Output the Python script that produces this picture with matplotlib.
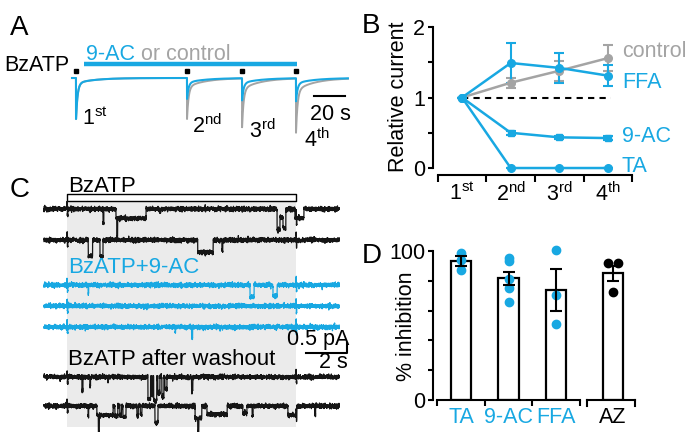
import numpy as np
import matplotlib.pyplot as plt
from matplotlib.ticker import FixedLocator

plt.rcParams['font.family'] = ['Liberation Sans', 'DejaVu Sans']
plt.rcParams['mathtext.fontset'] = 'custom'
plt.rcParams['mathtext.rm'] = 'Liberation Sans'
plt.rcParams['mathtext.it'] = 'Liberation Sans'

BLUE = '#18a8e2'
GRAY = '#a4a4a4'
W, H = 696, 444

# ---------------- data ----------------
# A: example whole-cell responses (relative to 1st response)
pulse_t = [2.6, 74.2, 109.7, 144.5]            # s
amp_ctrl = [1.0, 1.0, 1.19, 1.32]
amp_9ac = [1.0, 0.51, 0.54, 0.56]
tail_frac = [0.13, 0.22, 0.22, 0.22]
drug_on, drug_off = 7.7, 145.1                 # s

# B: relative current
stim = [1, 2, 3, 4]
stim_labels = ['1^{st}', '2^{nd}', '3^{rd}', '4^{th}']
ctrl_mean = [1.0, 1.21, 1.38, 1.56]
ctrl_err = [0.0, 0.07, 0.14, 0.19]
ffa_mean = [1.0, 1.49, 1.42, 1.31]
ffa_err = [0.0, 0.28, 0.21, 0.15]
ac_mean = [1.0, 0.50, 0.435, 0.425]
ac_err = [0.0, 0.03, 0.025, 0.03]
ta_mean = [1.0, 0.0, 0.0, 0.0]
ta_err = [0.0, 0.0, 0.0, 0.0]

# C: single-channel openings (start s, end s, amplitude pA)
bz_on, bz_off = 1.12, 12.29
events_black1 = [(2.88, 2.92, 0.7), (3.51, 4.98, 0.47), (3.55, 3.59, 0.95), (5.66, 5.69, 0.2),
                 (11.37, 11.51, 1.05), (11.51, 11.66, 0.42), (11.66, 11.8, 0.95), (12.24, 12.68, 0.45)]
events_black2 = [(2.16, 2.37, 0.8), (2.73, 2.88, 0.8), (7.5, 8.25, 0.62), (8.68, 8.72, 0.55)]
events_blue1 = [(2.15, 2.18, 0.45), (10.05, 10.25, 0.6), (11.17, 11.37, 0.55), (13.56, 13.58, 0.2)]
events_blue2 = [(5.0, 5.02, 0.1)]
events_blue3 = [(6.4, 6.42, 0.25), (7.2, 7.25, 0.55)]
events_black3 = [(0.78, 0.8, 0.2), (1.85, 1.9, 0.7), (2.24, 2.27, 0.45), (3.12, 3.14, 0.2),
                 (5.07, 5.2, 1.1), (5.25, 5.3, 0.9), (5.35, 5.5, 1.2), (5.55, 5.65, 0.8),
                 (5.75, 5.85, 1.0), (5.9, 6.0, 0.6), (7.2, 7.26, 0.7)]
events_black4 = [(2.15, 2.18, 0.5), (2.58, 3.37, 0.45), (2.65, 2.7, 0.95), (3.46, 3.6, 0.5),
                 (3.7, 3.78, 0.5), (3.85, 4.0, 0.55), (4.53, 4.6, 0.5), (4.7, 4.78, 0.45),
                 (5.41, 5.56, 0.85), (7.37, 7.7, 0.6), (7.5, 7.55, 0.75), (7.95, 8.93, 0.42),
                 (9.7, 9.9, 0.35), (10.15, 10.2, 0.5), (11.9, 12.34, 0.45), (13.2, 13.25, 0.45)]

# D: % inhibition
groups = ['TA', '9-AC', 'FFA', 'AZ']
group_colors = [BLUE, BLUE, BLUE, 'black']
inhib_mean = [93.5, 81.7, 73.8, 85.0]
inhib_err = [3.4, 4.5, 14.3, 4.8]
inhib_pts = [[98.5, 94.0, 87.0],
             [95.5, 93.3, 81.5, 75.4, 65.8],
             [100.4, 70.5, 50.9],
             [91.7, 91.7, 72.7]]

# ---------------- helpers ----------------
fig = plt.figure(figsize=(W / 100, H / 100), dpi=100)


def box(l, t, r, b):
    return [l / W, 1 - b / H, (r - l) / W, (b - t) / H]


def ftext(x, y, s, **kw):
    kw.setdefault('fontsize', 15.5)
    fig.text(x / W, 1 - y / H, s, **kw)


def evoked(t, onsets, amps, fracs, tau_fast=1.0, tau_slow=12.0):
    y = np.zeros_like(t)
    for t0, a, sf in zip(onsets, amps, fracs):
        dt = t - t0
        m = dt >= 0
        y[m] -= a * ((1 - sf) * np.exp(-dt[m] / tau_fast) + sf * np.exp(-dt[m] / tau_slow))
    return y


rng = np.random.default_rng(3)


def channel_trace(t, events):
    # baseline noise is only texture; openings come from the event lists
    y = rng.normal(0, 0.055, t.size)
    for t0, t1, a in events:
        y[(t >= t0) & (t < t1)] -= a
    for ta in (bz_on, bz_off):
        y[(t >= ta) & (t < ta + 0.02)] += 0.3
        y[(t >= ta + 0.02) & (t < ta + 0.04)] -= 0.3
    return y


def panel_letter(x, y, s):
    ftext(x, y, s, fontsize=20)


# ---------------- A ----------------
axA = fig.add_axes(box(60, 40, 352, 150))
axA.axis('off')
axA.set_xlim((60 - 72) * 0.645, (352 - 72) * 0.645)
axA.set_ylim((78 - 150) / 41, (78 - 40) / 41)
tA = np.arange(0, 178, 0.05)
axA.plot(tA, evoked(tA, pulse_t, amp_ctrl, tail_frac), color=GRAY, lw=1.4)
axA.plot(tA, evoked(tA, pulse_t, amp_9ac, tail_frac), color=BLUE, lw=1.5)
axA.plot([drug_on, drug_off], [0.33, 0.33], color=BLUE, lw=3.2, solid_capstyle='butt')
axA.plot(pulse_t, [0.17] * len(pulse_t), 's', color='black', ms=2.3)
axA.plot([156, 176], [-0.44, -0.44], color='black', lw=1.5)

panel_letter(10, 35, 'A')
ftext(4, 71, 'BzATP')
ftext(86, 60, '9-AC', color=BLUE)
ftext(141, 60, 'or control', color=GRAY)
for x, y, s in [(82, 125, '1^{st}'), (192, 133, '2^{nd}'), (249, 138, '3^{rd}'), (304, 147, '4^{th}')]:
    ftext(x, y, r'$\mathregular{' + s + '}$', va='baseline')
ftext(310, 120, '20 s', va='baseline')

# ---------------- B ----------------
axB = fig.add_axes(box(433, 23.5, 640, 170))
axB.set_xlim(1 - (462 - 433) / 48.7, 1 + (640 - 462) / 48.7)
axB.set_ylim(-0.028, 2.05)
axB.plot([1, 4.05], [1, 1], color='black', lw=1.5, ls=(0, (3, 2.5)))
eb = dict(capsize=3.5, elinewidth=1.5, capthick=1.5, lw=1.8, clip_on=False)
axB.errorbar(stim, ctrl_mean, yerr=ctrl_err, color=GRAY, marker='o', ms=5.5, **eb)
axB.errorbar(stim, ac_mean, yerr=ac_err, color=BLUE, marker='s', ms=5, **eb)
axB.errorbar(stim, ta_mean, yerr=ta_err, color=BLUE, marker='o', ms=5.5, **eb)
axB.errorbar(stim, ffa_mean, yerr=ffa_err, color=BLUE, marker='o', ms=5.5, **eb)
for s in ['top', 'right']:
    axB.spines[s].set_visible(False)
for s in ['left', 'bottom']:
    axB.spines[s].set_linewidth(1.5)
axB.spines['left'].set_bounds(0, 2)
axB.spines['bottom'].set_bounds(0.5, 4.5)
axB.spines['bottom'].set_position(('outward', 3.6))
axB.set_yticks([0, 1, 2])
axB.yaxis.set_minor_locator(FixedLocator([0.5, 1.5]))
axB.tick_params(axis='y', which='both', length=3.6, width=1.5, labelsize=15.5, pad=2)
axB.set_xticks([0.5, 1.5, 2.5, 3.5, 4.5])
axB.set_xticklabels([])
axB.set_xticks(stim, minor=True)
axB.set_xticklabels([r'$\mathregular{' + s + '}$' for s in stim_labels], minor=True)
axB.tick_params(axis='x', which='major', length=5, width=1.5)
axB.tick_params(axis='x', which='minor', length=0, labelsize=15.5, pad=5)

panel_letter(362, 33, 'B')
ftext(398, 97, 'Relative current', rotation=90, ha='center', va='center')
ftext(622, 57, 'control', color=GRAY, va='baseline')
ftext(622, 88, 'FFA', color=BLUE, va='baseline')
ftext(622, 142, '9-AC', color=BLUE, va='baseline')
ftext(622, 172, 'TA', color=BLUE, va='baseline')

# ---------------- C ----------------
axC = fig.add_axes(box(40, 172, 352, 432))
axC.axis('off')
axC.set_xlim((40 - 44) / 20.5, (352 - 44) / 20.5)
axC.set_ylim(-(432 - 172) / 20, 0)
axC.fill_between([bz_on, bz_off], -(427 - 172) / 20, -(201 - 172) / 20, color='#ebebeb', lw=0)
axC.fill_between([bz_on, bz_off], -(201 - 172) / 20, -(194 - 172) / 20,
                 facecolor='white', edgecolor='black', lw=1.0)
tC = np.arange(0, 14.4, 0.004)
traces = [(events_black1, '#151515', 209), (events_black2, '#151515', 240),
          (events_blue1, BLUE, 285), (events_blue2, BLUE, 306), (events_blue3, BLUE, 327),
          (events_black3, '#151515', 377), (events_black4, '#151515', 406)]
for ev, col, base in traces:
    axC.plot(tC, channel_trace(tC, ev) - (base - 172) / 20, color=col, lw=0.9)
sb_t = 14.78
axC.plot([sb_t - 2, sb_t, sb_t], [-9.05, -9.05, -8.55], color='black', lw=1.5)

panel_letter(10, 197, 'C')
ftext(68, 192, 'BzATP', fontsize=16, va='baseline')
ftext(68, 273, 'BzATP+9-AC', fontsize=16, color=BLUE, va='baseline')
ftext(68, 365, 'BzATP after washout', fontsize=16, va='baseline')
ftext(349, 345, '0.5 pA', fontsize=15.5, ha='right', va='baseline')
ftext(348, 368, '2 s', fontsize=15.5, ha='right', va='baseline')

# ---------------- D ----------------
group_x = [1, 2, 3, 4.2]
pt_dx = [[0, 0, 0], [0, 0, 0, 0, 0], [0, 0, 0], [-0.1, 0.1, 0]]
axD = fig.add_axes(box(433, 251, 640, 400))
axD.set_xlim(1 - (461 - 433) / 47.5, 1 + (640 - 461) / 47.5)
axD.set_ylim(0, 100)
axD.bar(group_x, inhib_mean, width=0.44, facecolor='white', edgecolor='black', lw=1.6, zorder=2)
for gx, pts, dx, col in zip(group_x, inhib_pts, pt_dx, group_colors):
    axD.plot([gx + d for d in dx], pts, 'o', color=col, ms=6, zorder=3, clip_on=False)
axD.errorbar(group_x, inhib_mean, yerr=inhib_err, fmt='none', ecolor='black',
             elinewidth=1.5, capsize=4, capthick=1.5, zorder=4)
for s in ['top', 'right']:
    axD.spines[s].set_visible(False)
for s in ['left', 'bottom']:
    axD.spines[s].set_linewidth(1.5)
axD.spines['bottom'].set_bounds(0.5, 3.5)
axD.set_yticks([0, 20, 40, 60, 80, 100])
axD.set_yticklabels(['0', '', '', '', '', '100'])
axD.tick_params(axis='y', length=3.6, width=1.5, labelsize=15.5, pad=2)
axD.set_xticks([0.5, 1.5, 2.5, 3.5])
axD.set_xticklabels([])
axD.tick_params(axis='x', which='major', length=4.5, width=1.5)
axD.set_xticks(group_x, minor=True)
axD.set_xticklabels(groups, minor=True)
axD.tick_params(axis='x', which='minor', length=0, labelsize=15.5, pad=5)
for lab, col in zip(axD.get_xticklabels(minor=True), group_colors):
    lab.set_color(col)
# separate axis segment for AZ
seg = [3.65, 4.66]
axD.plot(seg, [0, 0], color='black', lw=1.5, clip_on=False, solid_capstyle='projecting')
for sx in seg:
    axD.plot([sx, sx], [0, -4.2], color='black', lw=1.5, clip_on=False)

panel_letter(362, 263, 'D')
ftext(407, 326, '% inhibition', rotation=90, ha='center', va='center')

fig.savefig('out.png', dpi=100)
